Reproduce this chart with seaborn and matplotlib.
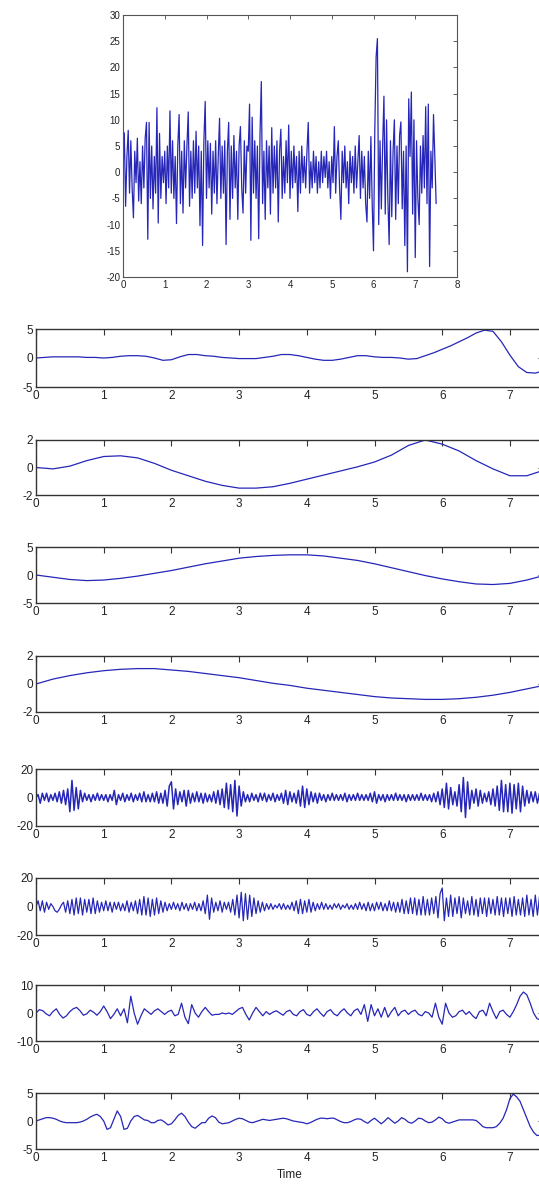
import numpy as np
import pandas as pd
import matplotlib
matplotlib.use("Agg")
import matplotlib.pyplot as plt
import seaborn as sns

sns.set_style("white")
plt.rcParams['font.family'] = ['Liberation Sans', 'DejaVu Sans']
plt.rcParams['axes.unicode_minus'] = False

# ---- data ----
# raw signal, one value every 1/32 s
raw_signal = [
    0, 7.5, -6.5, 3, 8, -4, 6, -3, -8.7, 4, -2, 6.5, -5.5, 2, -6, 5, -3, 6.5, 9.5, -12.8, 9.5, -5, 5, -7, 3, -4, 12.3, -9.7, 7.4, -5, 3, -2,
    4, -6, 5, -3, 11.7, -4, 6, -5, 3, -9.8, 5, 11, -6, 4, -7.8, 6, -3, 5, 11.5, -6.5, 4, -5, 6, -4, 7.8, -3, 5, -10.2, 4, -14, 6, 13.5,
    -5, 6, -3, 5.5, -8, 4, -4, 6, -6, 3, 10.3, -5, 5, -4, 6, -13.8, 4, 9.5, -9, 5, -5, 7, -3, 4, -9, 5, 8.7, -3, -7.8, 6, -4, 5,
    4, 13, -13, 10.5, -4, 6, -5, 5, -12.7, 7, 17.3, -6, 4, -9, 6, -3, 5, -8, 8.5, -4, 5, -3, 6, -9.5, 4, 8.2, -5, 3, -4, 6, -2, 9,
    -5, 4, -3, 5, -2, 3, -7.5, 4, -4, 5, -2, 3, -3, 4, 9.5, -4, 2, -3, 4, -2, 3, -4, 2, -3, 4, -2, 3, -1, 4, -3, 2, -5,
    3, -2, 8.7, -4, 3, 6, -3, -9, 4, -2, 5, -3, 2, -6, 4, -2, 3, -4, 5, -3, 2, 7, -5, 4, -3, 3, -6, -9.5, 4, -5, 6.8, -6,
    -15, 8, 22, 25.5, -10, 6, -7, 5, 14.5, -8, 10, -5, -13.8, 6, -8.5, 4, 10, -9, 5, -6, 7, 9.6, -7, 4, -14, 5, -19, 14, 3, 15.3, -8, 10,
    -16.3, 6, -5, -10, 5, -4, 7, -3, 12.5, -6, 13, -18, 4, -3, 11, 3, -6,
]

# component 1, every 0.125 s
comp1 = [
    0, 0.1, 0.2, 0.2, 0.2, 0.2, 0.1, 0.1,
    0.0, 0.1, 0.3, 0.4, 0.4, 0.3, 0.0, -0.4,
    -0.3, 0.2, 0.6, 0.6, 0.4, 0.3, 0.1, 0.0,
    -0.1, -0.1, -0.1, 0.1, 0.3, 0.6, 0.6, 0.4,
    0.1, -0.2, -0.4, -0.4, -0.2, 0.1, 0.4, 0.4,
    0.2, 0.1, 0.1, 0.0, -0.2, -0.1, 0.4, 0.9,
    1.5, 2.1, 2.8, 3.5, 4.3, 4.8, 4.6, 2.8,
    0.5, -1.5, -2.5, -2.6, -2.2,
]

# components 2-4, every 0.25 s
comp2 = [0, -0.1, 0.1, 0.5, 0.8, 0.85, 0.7, 0.3, -0.2, -0.6, -1.0, -1.3, -1.5, -1.5, -1.4, -1.15,
         -0.85, -0.55, -0.25, 0.05, 0.4, 0.9, 1.6, 2.0, 1.7, 1.2, 0.5, -0.1, -0.6, -0.6, -0.2]
comp3 = [0, -0.4, -0.8, -1.0, -0.9, -0.6, -0.2, 0.3, 0.8, 1.4, 2.0, 2.5, 3.0, 3.3, 3.5, 3.6,
         3.6, 3.4, 3.0, 2.6, 2.0, 1.3, 0.6, -0.1, -0.7, -1.2, -1.6, -1.7, -1.5, -0.9, -0.1]
comp4 = [0, 0.35, 0.6, 0.8, 0.95, 1.05, 1.1, 1.1, 1.0, 0.9, 0.75, 0.6, 0.45, 0.25, 0.05, -0.1,
         -0.3, -0.45, -0.6, -0.75, -0.9, -1.0, -1.05, -1.1, -1.1, -1.05, -0.95, -0.8, -0.6, -0.35, -0.1]

# components 5-6, every 1/32 s
comp5 = [
    0, 2, -4, 3, -2, 3, -3, 2, -2, 3, -3, 4, -4, 5, -5, 6, -10, 12, -9, 7, -8, 5, -3, 3, -2, 2, -3, 2, -2, 3, -2, 2,
    -2, 2, -3, 2, -2, 5, -5, 2, -2, 3, -3, 2, -2, 3, -3, 2, -2, 3, -3, 4, -3, 2, -3, 3, -3, 4, -4, 3, -4, 5, -6, 8,
    11, -8, 6, -5, 4, -3, 5, -6, 5, -4, 3, -3, 4, -3, 3, -4, 3, -3, 2, -3, 4, -4, 5, -5, 6, -7, 10, -8, 9, -10, 12, -13,
    8, -6, 4, -3, 2, -3, 3, -2, 2, -3, 3, -2, 3, -3, 2, -2, 3, -3, 2, -2, 3, -4, 5, -5, 4, -3, 3, -4, 5, -6, 8, -7,
    6, -5, 4, -3, 3, -4, 3, -2, 2, -3, 2, -2, 3, -2, 2, -2, 2, -2, 3, -3, 2, -2, 2, -2, 3, -2, 2, -2, 2, -2, 3, -3,
    4, -4, 2, -2, 2, -3, 2, -2, 2, -2, 3, -2, 2, -2, 2, -3, 2, -2, 2, -2, 2, -2, 3, -2, 2, -2, 2, -3, 3, -3, 4, -5,
    6, -7, 10, -8, 7, -5, 4, -6, 9, -10, 14, -14, 11, -8, 5, -4, 6, -6, 5, -4, 3, -3, 4, -5, 6, -6, 8, -9, 12, -10, 9, -10,
    10, -11, 9, -8, 10, -10, 8, -6, 5, -4, 4, -3, 4, -4, 3, -3, 2,
]
comp6 = [
    0, 4, -3, 4, -4, 3, -2, 2, 0, -3, -4, -2, 1, 3, -4, 4, -5, 5, -6, 6, -5, 6, -6, 5, -4, 5, -5, 6, -5, 4, -4, 3,
    -3, 4, -3, 3, -4, 3, -2, 3, -3, 2, -3, 4, -4, 3, -3, 4, -5, 5, -6, 7, -6, 6, -7, 5, -6, 6, -5, 4, -4, 3, -3, 2,
    -2, 3, -2, 2, -3, 3, -2, 2, -3, 2, -2, 3, -3, 2, -3, 4, -5, 8, -9, 6, -4, 3, -3, 4, -4, 3, -2, 3, -4, 5, -6, 8,
    -8, 10, -10, 9, -9, 8, -7, 6, -5, 4, -4, 3, -3, 2, -2, 2, -2, 1, -1, 2, -2, 2, -2, 1, -2, 3, -3, 4, -5, 5, -5, 4,
    -4, 5, -4, 3, -3, 2, -2, 3, -2, 2, -2, 1, -2, 2, -1, 2, -2, 1, -1, 2, -2, 1, -2, 2, -2, 3, -2, 2, -3, 3, -3, 2,
    -3, 3, -2, 3, -3, 2, -3, 4, -3, 3, -4, 3, -4, 5, -5, 4, -5, 6, -5, 6, -6, 5, -6, 7, -6, 5, -6, 6, -5, 7, -8, 9,
    13, -10, 6, -7, 8, -7, 6, -5, 7, -8, 6, -5, 4, -6, 7, -6, 5, -7, 6, -5, 6, -7, 6, -5, 5, -6, 7, -6, 6, -7, 6, -5,
    6, -7, 7, -6, 5, -6, 6, -7, 8, -6, 5, -7, 8, -6, 7, -5, 6,
]

# components 7-8, every 0.05 s
comp7 = [
    0, 1.2, 0.8, -0.3, -1.0, 0.5, 1.5, -0.5, -1.8, -1.0, 0.5, 1.5, 2.0, 0.8, -0.8, -0.3, 1.0, 0.3, -0.8, 0.5,
    2.5, 0.5, -2.0, -0.5, 1.5, -1.0, 1.5, -3.5, 6.0, 0, -4.0, -1.0, 1.5, 0.5, -0.5, 0.8, 1.5, 0.5, -0.5, 0.5,
    1.0, -1.0, -0.5, 3.5, -1.5, -3.8, 3.0, 0, -1.5, 0.5, 2.0, 0.5, -0.8, -0.5, -0.5, 0, -0.3, 0, -0.5, 0.5,
    1.5, 2.0, -0.5, -2.5, 0, 2.0, 0.5, -1.0, 0.5, -0.5, 0.3, 0.8, 0, -0.8, 0.5, 1.0, -0.5, -1.0, 0.5, 1.2,
    -0.5, -1.0, 0.5, 1.5, 0, -1.2, 0.5, 1.2, -0.3, -1.0, 0.5, 1.5, 0, -1.0, 0.8, 1.5, -0.5, 3.0, -3.0, 3.0,
    -1.0, 1.5, -1.5, 2.0, -1.5, 0.5, 2.0, -1.0, 0.5, 1.0, -0.5, 0.5, 1.0, -0.5, -1.0, 0.5, 0, -1.5, 3.5, -1.5,
    -4.0, 3.5, 0, -1.5, -1.0, 0.5, 1.0, -0.5, 0.5, -1.0, -2.0, 0.5, 1.0, -1.0, 3.5, 0.5, -2.0, 0.5, 1.0, -0.5,
    -1.5, 0.5, 3.0, 6.0, 7.5, 6.5, 3.5, 0, -2.0, -2.5, -1.5,
]
comp8 = [
    0, 0.2, 0.4, 0.6, 0.6, 0.5, 0.3, 0, -0.2, -0.3, -0.3, -0.3, -0.3, -0.2, 0, 0.3, 0.7, 1.0, 1.2, 0.8,
    0.0, -1.5, -1.2, 0.3, 1.8, 0.8, -1.5, -1.3, 0, 0.8, 1.0, 0.6, 0.2, 0.1, -0.3, -0.3, 0.1, 0.2, -0.2, -0.7,
    -0.5, 0.2, 1.0, 1.4, 0.8, -0.2, -1.0, -1.3, -0.8, -0.3, -0.3, 0.5, 0.9, 0.6, -0.2, -0.5, -0.4, -0.3, 0, 0.3,
    0.5, 0.4, 0.1, -0.2, -0.3, -0.1, 0.1, 0.3, 0.2, 0.1, 0.2, 0.3, 0.4, 0.5, 0.4, 0.2, 0, -0.1, -0.2, -0.3,
    -0.5, -0.3, 0, 0.3, 0.5, 0.5, 0.4, 0.5, 0.5, 0.2, -0.1, -0.3, -0.3, -0.1, 0.2, 0.4, 0.3, -0.1, -0.4, 0.1,
    0.5, 0, -0.5, 0, 0.6, 0.1, -0.4, 0, 0.6, 0.3, -0.2, -0.4, 0, 0.5, 0.4, 0, -0.3, -0.2, 0.2, 0.7,
    0.4, -0.2, -0.4, -0.2, 0, 0.2, 0.2, 0.2, 0.2, 0.2, 0.1, -0.4, -1.0, -1.2, -1.2, -1.2, -1.0, -0.4, 0.5, 2.0,
    4.0, 4.8, 4.3, 3.5, 2.0, 0.5, -1.0, -2.0, -2.6, -2.5, -2.4,
]

components = [comp1, comp2, comp3, comp4, comp5, comp6, comp7, comp8]
comp_steps = [0.125, 0.25, 0.25, 0.25, 1 / 32, 1 / 32, 0.05, 0.05]
comp_ylims = [5, 2, 5, 2, 20, 20, 10, 5]
comp_lw = [0.9, 0.9, 0.9, 0.9, 1.1, 0.9, 0.9, 0.9]

# panel boxes in pixels (top, bottom)
W, H = 539, 1184
panel_px = [(329, 387), (440, 495), (547, 603), (656, 712),
            (769, 826), (878, 935), (985, 1041), (1093, 1149)]

line_col = '#2626b8'
txt_col = '#222222'

fig = plt.figure(figsize=(W / 100, H / 100), dpi=100)

# ---- top: raw signal ----
ax0 = fig.add_axes([123 / W, 1 - 277 / H, 334 / W, 262 / H])
raw_df = pd.DataFrame({'t': np.arange(len(raw_signal)) / 32, 'v': raw_signal})
sns.lineplot(data=raw_df, x='t', y='v', ax=ax0, color=line_col, lw=0.9, estimator=None)
ax0.set_xlim(0, 8)
ax0.set_ylim(-20, 30)
ax0.set_xticks(range(0, 9))
ax0.set_yticks(range(-20, 31, 5))
ax0.set_xlabel('')
ax0.set_ylabel('')
ax0.tick_params(direction='in', top=True, right=True, length=3, width=0.6,
                labelsize=7, colors='#444444', labelcolor=txt_col, pad=2)
for sp in ax0.spines.values():
    sp.set_color('#555555')
    sp.set_linewidth(0.8)

# ---- components ----
for i, (vals, dt, lim) in enumerate(zip(components, comp_steps, comp_ylims)):
    top, bot = panel_px[i]
    ax = fig.add_axes([36 / W, 1 - bot / H, 507.75 / W, (bot - top) / H])
    df = pd.DataFrame({'t': np.arange(len(vals)) * dt, 'v': vals})
    sns.lineplot(data=df, x='t', y='v', ax=ax, color=line_col, lw=comp_lw[i], estimator=None)
    ax.set_xlim(0, 7.5)
    ax.set_ylim(-lim, lim)
    ax.set_xticks(range(0, 8))
    ax.set_yticks([-lim, 0, lim])
    ax.set_xlabel('')
    ax.set_ylabel('')
    ax.tick_params(direction='in', top=True, right=True, length=4, width=0.8,
                   labelsize=8.5, colors='#333333', labelcolor=txt_col, pad=2)
    for sp in ax.spines.values():
        sp.set_color('#333333')
        sp.set_linewidth(1.0)
    if i == len(components) - 1:
        ax.set_xlabel('Time', fontsize=8.5, color=txt_col, labelpad=4)

fig.savefig('out.png', dpi=100)
